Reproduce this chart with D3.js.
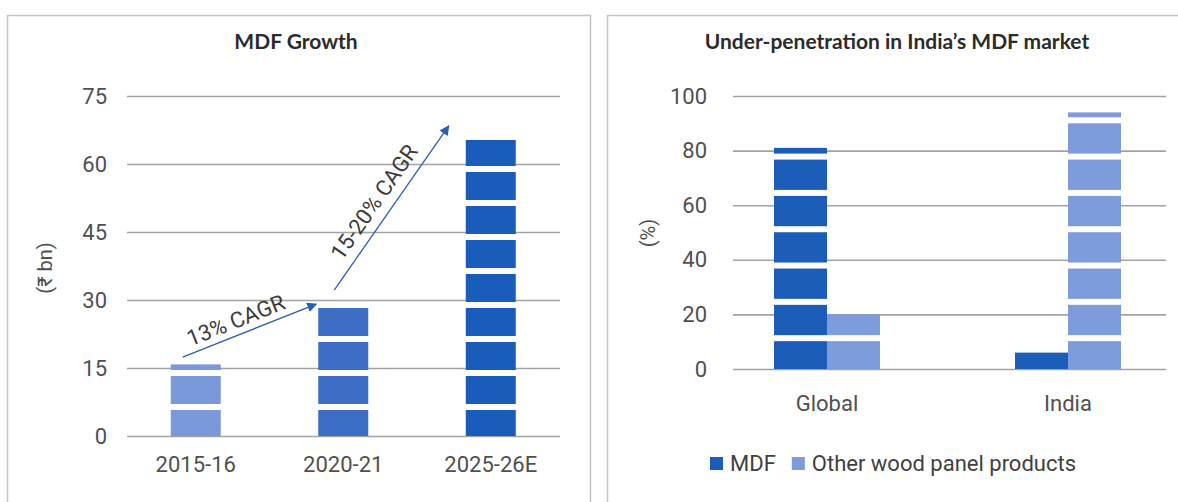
<!DOCTYPE html>
<html>
<head>
<meta charset="utf-8">
<script src="https://cdn.jsdelivr.net/npm/d3@7"></script>
<style>
  body { margin: 0; background: #fff; }
  svg { display: block; }
</style>
</head>
<body>
<div id="chart"></div>
<script>
// left panel data
var growthYears  = ['2015-16', '2020-21', '2025-26E'];
var growthValues = [15.8, 28.3, 65.3];
var growthTicks  = [0, 15, 30, 45, 60, 75];
var growthColors = ['#7b98da', '#3d6dc4', '#1a5cb9'];

// CAGR arrows: [from year, from value, to year, to value, label]
var cagrArrows = [
    ['2015-16', 17.4, '2020-21', 29.1, '13% CAGR'],
    ['2020-21', 32.2, '2025-26E', 68.4, '15-20% CAGR']
];

// right panel data
var marketRegions = ['Global', 'India'];
var mdfShare      = [81, 6];
var otherShare    = [20, 94];
var marketTicks   = [0, 20, 40, 60, 80, 100];
var marketSeries  = ['MDF', 'Other wood panel products'];

//config
var config = {};
config.width      = 1178;
config.height     = 502;
config.tickFont   = 'Roboto, "Liberation Sans", sans-serif';
config.titleFont  = 'Lato, "Open Sans", sans-serif';
config.fontSize   = '22px';
config.gridColor  = '#a3a3a3';
config.textColor  = '#505050';
config.mdfColor   = '#1b5db8';
config.otherColor = '#7e9bdb';
config.arrowColor = '#2c5faf';

var svg = d3.select('#chart')
    .append('svg')
    .attr('width', config.width)
    .attr('height', config.height);

//panel frames
svg.append('rect')
    .attr('x', 7.5).attr('y', 15.5)
    .attr('width', 583).attr('height', 500)
    .attr('fill', 'none').attr('stroke', '#c4c4c4').attr('stroke-width', 1.5);
svg.append('rect')
    .attr('x', 607.5).attr('y', 15.5)
    .attr('width', 600).attr('height', 500)
    .attr('fill', 'none').attr('stroke', '#c4c4c4').attr('stroke-width', 1.5);

//-------------------------------------------------------
//--------------------- helpers -------------------------
//-------------------------------------------------------
function drawGrid(g, y, ticks, x0, x1, labelX){
    var axis = d3.axisLeft(y)
        .tickValues(ticks)
        .tickSize(-(x1 - x0))
        .tickPadding(x0 - labelX)
        .tickFormat(d3.format('d'));
    var a = g.append('g')
        .attr('transform', 'translate(' + x0 + ',0)')
        .call(axis);
    a.select('.domain').remove();
    a.selectAll('.tick line')
        .attr('stroke', config.gridColor)
        .attr('stroke-width', 1.6);
    a.selectAll('.tick text')
        .attr('fill', config.textColor)
        .style('font-family', config.tickFont)
        .style('font-size', config.fontSize);
}

//white stripes across a bar, every `step` units starting at `first`
function stripeBar(g, x, w, value, y, first, step, gap){
    var base = y(0);
    d3.range(first, value + step, step).forEach(function(v){
        var cy = y(v);
        if (cy + gap / 2 < y(value)) { return; }
        g.append('rect')
            .attr('x', x - 1)
            .attr('width', w + 2)
            .attr('y', cy - gap / 2)
            .attr('height', Math.min(gap, base - (cy - gap / 2)))
            .attr('fill', '#fff');
    });
}

function title(text, cx){
    svg.append('text')
        .attr('x', cx).attr('y', 49)
        .attr('text-anchor', 'middle')
        .attr('fill', '#2b2b2b')
        .style('font-family', config.titleFont)
        .style('font-weight', 'bold')
        .style('font-size', '21px')
        .text(text);
}

function label(g, text, x, y){
    return g.append('text')
        .attr('x', x)
        .attr('y', y)
        .attr('text-anchor', 'middle')
        .attr('fill', config.textColor)
        .style('font-family', config.tickFont)
        .style('font-size', config.fontSize)
        .text(text);
}

//-------------------------------------------------------
//--------------------- MDF Growth ----------------------
//-------------------------------------------------------
title('MDF Growth', 296);

var gx = d3.scaleBand()
    .domain(growthYears)
    .range([122, 564.5]);
var gy = d3.scaleLinear()
    .domain([0, 75])
    .range([436, 96]);

var left = svg.append('g');
drawGrid(left, gy, growthTicks, 127, 560, 107);

var barW = 50;
growthYears.forEach(function(yr, i){
    var cx = gx(yr) + gx.bandwidth() / 2;
    left.append('rect')
        .attr('x', cx - barW / 2)
        .attr('y', gy(growthValues[i]))
        .attr('width', barW)
        .attr('height', gy(0) - gy(growthValues[i]))
        .attr('fill', growthColors[i]);
    stripeBar(left, cx - barW / 2, barW, growthValues[i], gy, 6.4, 7.5, 6);

    label(left, yr, cx, 472);
});

// y axis title
svg.append('text')
    .attr('transform', 'translate(52,268) rotate(-90)')
    .attr('text-anchor', 'middle')
    .attr('fill', config.textColor)
    .style('font-family', config.tickFont)
    .style('font-size', '20px')
    .text('(₹ bn)');

// arrows
var defs = svg.append('defs');
defs.append('marker')
    .attr('id', 'arrowhead')
    .attr('viewBox', '0 0 10 10')
    .attr('refX', 9).attr('refY', 5)
    .attr('markerWidth', 10).attr('markerHeight', 10)
    .attr('markerUnits', 'userSpaceOnUse')
    .attr('orient', 'auto')
    .append('path')
    .attr('d', 'M0,0 L10,5 L0,10 z')
    .attr('fill', config.arrowColor);

// start dx, end dx, text shift along, text shift across
var arrowOffsets = [[-13, -27, -9, 7], [-9, -42, -5, 10]];
cagrArrows.forEach(function(a, i){
    var x1 = gx(a[0]) + gx.bandwidth() / 2 + arrowOffsets[i][0];
    var y1 = gy(a[1]);
    var x2 = gx(a[2]) + gx.bandwidth() / 2 + arrowOffsets[i][1];
    var y2 = gy(a[3]);
    left.append('line')
        .attr('x1', x1).attr('y1', y1)
        .attr('x2', x2).attr('y2', y2)
        .attr('stroke', config.arrowColor)
        .attr('stroke-width', 1.3)
        .attr('marker-end', 'url(#arrowhead)');

    var ang = Math.atan2(y2 - y1, x2 - x1);
    var mx = (x1 + x2) / 2 + Math.cos(ang) * arrowOffsets[i][2];
    var my = (y1 + y2) / 2 + Math.sin(ang) * arrowOffsets[i][2];
    var off = arrowOffsets[i][3];
    mx += Math.sin(ang) * off;
    my -= Math.cos(ang) * off;
    left.append('text')
        .attr('transform', 'translate(' + mx + ',' + my + ') rotate(' + (ang * 180 / Math.PI) + ')')
        .attr('text-anchor', 'middle')
        .attr('fill', '#3c3c3c')
        .style('font-family', config.tickFont)
        .style('font-size', config.fontSize)
        .text(a[4]);
});

//-------------------------------------------------------
//--------------- Under-penetration ---------------------
//-------------------------------------------------------
title('Under-penetration in India\u2019s MDF market', 897);

var mx0 = d3.scaleBand()
    .domain(marketRegions)
    .range([706.5, 1188.5]);
var my0 = d3.scaleLinear()
    .domain([0, 100])
    .range([369, 96]);

var right = svg.append('g');
drawGrid(right, my0, marketTicks, 733, 1166, 707);

var mBarW = 53;
var seriesValues = [mdfShare, otherShare];
var seriesColors = [config.mdfColor, config.otherColor];
marketRegions.forEach(function(r, i){
    var cx = mx0(r) + mx0.bandwidth() / 2;
    seriesValues.forEach(function(vals, s){
        var x = cx - mBarW + s * mBarW;
        right.append('rect')
            .attr('x', x)
            .attr('y', my0(vals[i]))
            .attr('width', mBarW)
            .attr('height', my0(0) - my0(vals[i]))
            .attr('fill', seriesColors[s]);
    });
    stripeBar(right, cx - mBarW, mBarW * 2, Math.max(mdfShare[i], otherShare[i]), my0, 11.3, 13.3, 6);

    label(right, r, cx, 411);
});

svg.append('text')
    .attr('transform', 'translate(655,233) rotate(-90)')
    .attr('text-anchor', 'middle')
    .attr('fill', config.textColor)
    .style('font-family', config.tickFont)
    .style('font-size', '20px')
    .text('(%)');

// legend
var legend = svg.append('g').attr('transform', 'translate(710,471)');
var lx = 0;
marketSeries.forEach(function(name, s){
    legend.append('rect')
        .attr('x', lx).attr('y', -14)
        .attr('width', 13).attr('height', 13)
        .attr('fill', seriesColors[s]);
    var t = legend.append('text')
        .attr('x', lx + 20).attr('y', 0)
        .attr('fill', '#404040')
        .style('font-family', config.tickFont)
        .style('font-size', config.fontSize)
        .text(name);
    lx += 20 + t.node().getComputedTextLength() + 16;
});
</script>
</body>
</html>
